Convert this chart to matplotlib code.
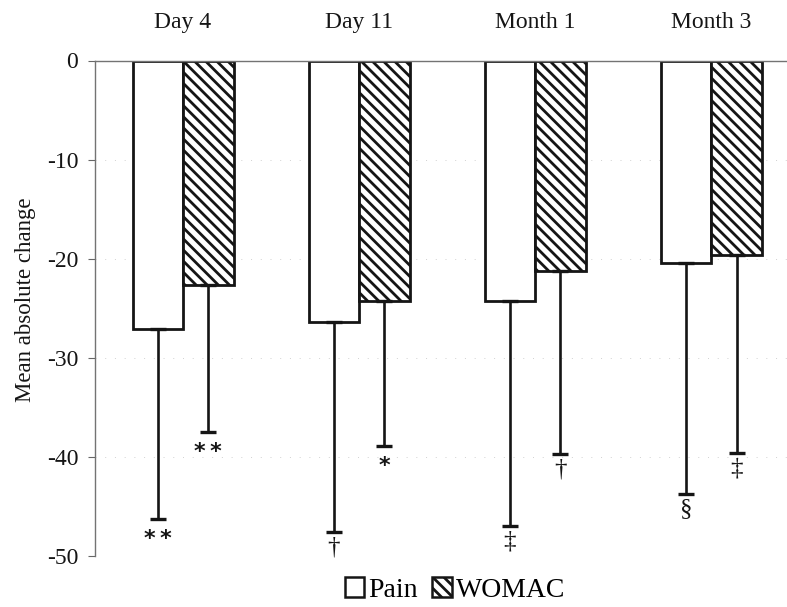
import numpy as np
import matplotlib
matplotlib.use("Agg")
import matplotlib.pyplot as plt
from matplotlib.patches import Patch

# Dados
groups = ["Day 4", "Day 11", "Month 1", "Month 3"]
pain_mean = [-27.1, -26.4, -24.3, -20.4]
pain_err = [19.2, 21.2, 22.7, 23.3]
womac_mean = [-22.7, -24.3, -21.2, -19.6]
womac_err = [14.8, 14.6, 18.5, 20.0]
pain_sig = ["*\u2009*", "\u2020", "\u2021", "\u00a7"]
womac_sig = ["*\u2009*", "*", "\u2020", "\u2021"]
yticks = [0, -10, -20, -30, -40, -50]

plt.rcParams["font.family"] = ["Liberation Serif", "DejaVu Serif"]
plt.rcParams["axes.unicode_minus"] = False
plt.rcParams["hatch.linewidth"] = 2.0

fig = plt.figure(figsize=(7.87, 6.07), dpi=100)
ax = fig.add_axes([95 / 787, 51 / 607, 692 / 787, 495.5 / 607])

x = np.arange(len(groups))
w = 0.287
ink = "#151515"

ax.bar(x - w / 2, pain_mean, w, color="white", edgecolor=ink, linewidth=2.0, zorder=2)
ax.bar(x + w / 2, womac_mean, w, color="white", edgecolor=ink, linewidth=2.0,
       hatch="\\\\\\", zorder=2)

zeros = np.zeros(len(groups))
ax.errorbar(x - w / 2, pain_mean, yerr=[pain_err, zeros], fmt="none", ecolor=ink,
            elinewidth=1.9, capsize=6, capthick=2.4, zorder=3)
ax.errorbar(x + w / 2, womac_mean, yerr=[womac_err, zeros], fmt="none", ecolor=ink,
            elinewidth=1.9, capsize=6, capthick=2.4, zorder=3)


def sig_label(s, xy):
    # asteriscos em negrito sans, demais simbolos em serif
    if "*" in s:
        ax.annotate(s, xy, xytext=(0, -7), textcoords="offset points", ha="center", va="top",
                    fontsize=16, fontweight="bold", family="DejaVu Sans", color=ink)
    else:
        ax.annotate(s, xy, xytext=(0, -3), textcoords="offset points", ha="center", va="top",
                    fontsize=18, color=ink)


for i in range(len(groups)):
    sig_label(pain_sig[i], (x[i] - w / 2, pain_mean[i] - pain_err[i]))
    sig_label(womac_sig[i], (x[i] + w / 2, womac_mean[i] - womac_err[i]))

ax.set_xlim(-0.5, 3.43)
ax.set_ylim(-50, 0)
ax.set_yticks(yticks)
ax.set_yticklabels([str(v) for v in yticks], fontsize=17, color=ink)
ax.tick_params(axis="y", length=5, width=0.8, color="0.4", pad=7)

ax.xaxis.set_ticks_position("top")
ax.set_xticks(x)
ax.set_xticklabels(groups, fontsize=17, color=ink)
ax.tick_params(axis="x", length=0, pad=20)

ax.spines["right"].set_visible(False)
ax.spines["bottom"].set_visible(False)
ax.spines["top"].set_color("0.45")
ax.spines["left"].set_color("0.45")
ax.spines["top"].set_linewidth(1.0)
ax.spines["left"].set_linewidth(1.0)

# linhas de grade bem claras (quase apagadas no original)
for v in yticks[1:]:
    ax.axhline(v, color="0.82", linewidth=0.7, linestyle=(0, (1, 9)), zorder=0)

ax.set_ylabel("Mean absolute change", fontsize=16.5, color=ink)
ax.yaxis.set_label_coords(-0.085, 0.517)

handles = [Patch(facecolor="white", edgecolor=ink, linewidth=1.8),
           Patch(facecolor="white", edgecolor=ink, linewidth=1.8, hatch="\\\\\\")]
fig.legend(handles, ["Pain", "WOMAC"], loc="center", bbox_to_anchor=(455 / 787, 1 - 590 / 607),
           ncol=2, frameon=False, fontsize=20, handlelength=0.7, handleheight=0.7,
           handletextpad=0.15, columnspacing=0.5, borderaxespad=0)

fig.savefig("out.png", dpi=100)
